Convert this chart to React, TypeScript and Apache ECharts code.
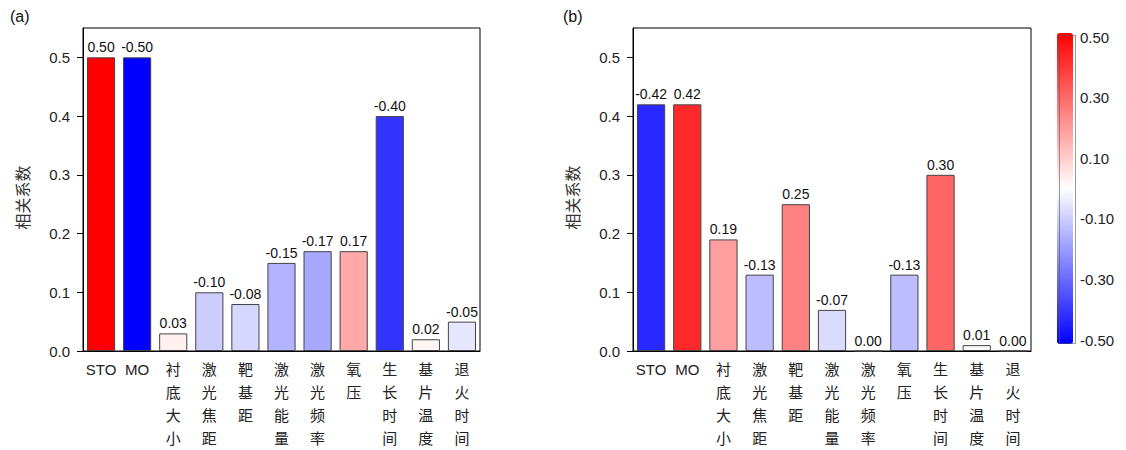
import React, { useEffect, useRef } from 'react';
import * as echarts from 'echarts';

const categories = ['STO', 'MO', '衬底大小', '激光焦距', '靶基距', '激光能量', '激光频率', '氧压', '生长时间', '基片温度', '退火时间'];
const valuesA = [0.5, -0.5, 0.03, -0.1, -0.08, -0.15, -0.17, 0.17, -0.4, 0.02, -0.05];
const valuesB = [-0.42, 0.42, 0.19, -0.13, 0.25, -0.07, 0.0, -0.13, 0.3, 0.01, 0.0];
const yTicks = [0, 0.1, 0.2, 0.3, 0.4, 0.5];
const colorbarTicks = [-0.5, -0.3, -0.1, 0.1, 0.3, 0.5];
const panelLabels = ['(a)', '(b)'];
const yAxisName = '相关系数';

const FONT = "'Liberation Sans', Arial, 'Noto Sans CJK SC', sans-serif";

export default function App() {
  const ref = useRef<HTMLDivElement>(null);

  useEffect(() => {
    document.body.style.margin = '0';
    if (!ref.current) return;
    const chart = echarts.init(ref.current, undefined, { renderer: 'svg' });

    const toData = (vals: number[]) => vals.map((v, i) => [categories[i], Math.abs(v), v]);

    const xAxisCommon = (gridIndex: number) => ({
      type: 'category',
      gridIndex,
      data: categories,
      axisLine: { lineStyle: { color: '#000', width: 1 } },
      axisTick: { show: false },
      axisLabel: {
        interval: 0,
        margin: 7,
        fontSize: 15,
        lineHeight: 23,
        color: '#222',
        fontFamily: FONT,
        formatter: (s: string) => (/^[A-Za-z]+$/.test(s) ? s : s.split('').join('\n')),
      },
    });

    const yAxisCommon = (gridIndex: number) => ({
      type: 'value',
      gridIndex,
      min: 0,
      max: 0.55,
      name: yAxisName,
      nameLocation: 'middle',
      nameGap: 52,
      nameTextStyle: { fontSize: 16, color: '#333', fontFamily: FONT, padding: [0, 0, 0, -16] },
      axisLine: { show: true, lineStyle: { color: '#000', width: 1 } },
      axisTick: { show: true, inside: false, length: 6, customValues: yTicks, lineStyle: { color: '#000' } },
      splitLine: { show: false },
      axisLabel: {
        customValues: yTicks,
        margin: 13,
        fontSize: 15,
        color: '#222',
        fontFamily: FONT,
        formatter: (v: number) => v.toFixed(1),
      },
    });

    const barSeries = (vals: number[], idx: number) => ({
      type: 'bar',
      xAxisIndex: idx,
      yAxisIndex: idx,
      data: toData(vals),
      encode: { x: 0, y: 1 },
      barCategoryGap: '22%',
      itemStyle: { borderColor: '#444', borderWidth: 1 },
      label: {
        show: true,
        position: 'top',
        distance: 3,
        fontSize: 14,
        color: '#111',
        fontFamily: FONT,
        formatter: (p: any) => (p.data[2] as number).toFixed(2),
      },
    });

    chart.setOption({
      animation: false,
      textStyle: { fontFamily: FONT },
      grid: [
        { left: 83, top: 28, width: 397, height: 323, show: true, borderColor: '#000', borderWidth: 1, backgroundColor: 'transparent' },
        { left: 633, top: 28, width: 398, height: 323, show: true, borderColor: '#000', borderWidth: 1, backgroundColor: 'transparent' },
        { left: 1057, top: 37, width: 16, height: 303, show: false },
      ],
      xAxis: [
        xAxisCommon(0),
        xAxisCommon(1),
        { type: 'value', gridIndex: 2, show: false, min: 0, max: 1 },
      ],
      yAxis: [
        yAxisCommon(0),
        yAxisCommon(1),
        {
          type: 'value',
          gridIndex: 2,
          position: 'right',
          min: -0.5,
          max: 0.5,
          axisLine: { show: false },
          axisTick: { show: false },
          splitLine: { show: false },
          axisLabel: {
            customValues: colorbarTicks,
            margin: 7,
            fontSize: 15,
            color: '#222',
            fontFamily: FONT,
            formatter: (v: number) => v.toFixed(2),
          },
        },
      ],
      visualMap: {
        type: 'continuous',
        min: -0.5,
        max: 0.5,
        dimension: 2,
        seriesIndex: [0, 1],
        left: 1057,
        top: 33,
        itemWidth: 16,
        itemHeight: 311,
        padding: 0,
        calculable: false,
        text: null,
        inRange: { color: ['#0000ff', '#ffffff', '#ff0000'] },
      },
      graphic: [
        { type: 'text', left: 10, top: 8, style: { text: panelLabels[0], fontSize: 16, fill: '#111', fontFamily: FONT } },
        { type: 'text', left: 563, top: 8, style: { text: panelLabels[1], fontSize: 16, fill: '#111', fontFamily: FONT } },
        { type: 'rect', left: 1057, top: 33, z: 100, shape: { width: 16, height: 308 }, style: { fill: 'none', stroke: '#555', lineWidth: 0.6 } },
      ],
      series: [barSeries(valuesA, 0), barSeries(valuesB, 1)],
    });

    return () => chart.dispose();
  }, []);

  return <div ref={ref} style={{ width: 1126, height: 450 }} />;
}
